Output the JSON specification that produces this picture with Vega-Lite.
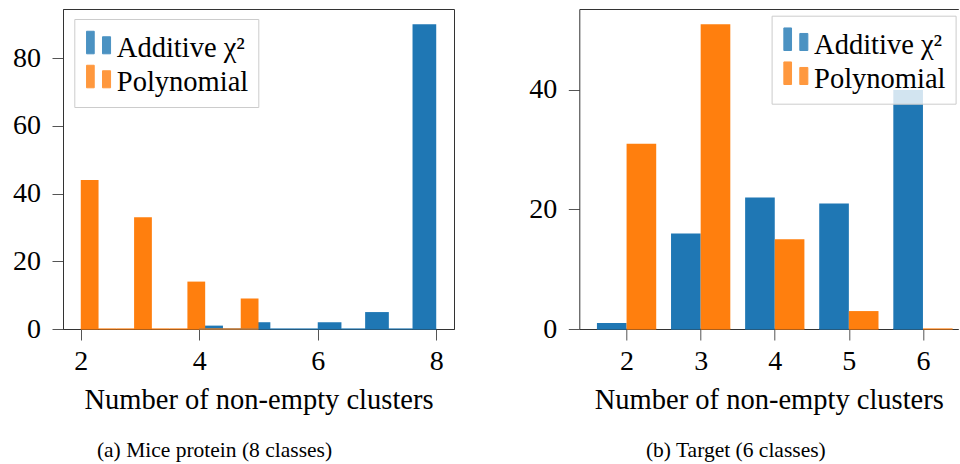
{
  "$schema": "https://vega.github.io/schema/vega-lite/v6.json",
  "background": "white",
  "padding": {"left": 12, "top": 8, "right": 0, "bottom": 0},
  "datasets": {
    "mice": [
      {"method": "Additive χ²", "x0": 4.0, "x1": 4.4, "count": 1},
      {"method": "Additive χ²", "x0": 4.4, "x1": 4.8, "count": 0},
      {"method": "Additive χ²", "x0": 4.8, "x1": 5.2, "count": 2},
      {"method": "Additive χ²", "x0": 5.2, "x1": 5.6, "count": 0},
      {"method": "Additive χ²", "x0": 5.6, "x1": 6.0, "count": 0},
      {"method": "Additive χ²", "x0": 6.0, "x1": 6.4, "count": 2},
      {"method": "Additive χ²", "x0": 6.4, "x1": 6.8, "count": 0},
      {"method": "Additive χ²", "x0": 6.8, "x1": 7.2, "count": 5},
      {"method": "Additive χ²", "x0": 7.2, "x1": 7.6, "count": 0},
      {"method": "Additive χ²", "x0": 7.6, "x1": 8.0, "count": 90},
      {"method": "Polynomial", "x0": 2.0, "x1": 2.3, "count": 44},
      {"method": "Polynomial", "x0": 2.3, "x1": 2.6, "count": 0},
      {"method": "Polynomial", "x0": 2.6, "x1": 2.9, "count": 0},
      {"method": "Polynomial", "x0": 2.9, "x1": 3.2, "count": 33},
      {"method": "Polynomial", "x0": 3.2, "x1": 3.5, "count": 0},
      {"method": "Polynomial", "x0": 3.5, "x1": 3.8, "count": 0},
      {"method": "Polynomial", "x0": 3.8, "x1": 4.1, "count": 14},
      {"method": "Polynomial", "x0": 4.1, "x1": 4.4, "count": 0},
      {"method": "Polynomial", "x0": 4.4, "x1": 4.7, "count": 0},
      {"method": "Polynomial", "x0": 4.7, "x1": 5.0, "count": 9}
    ],
    "target": [
      {"method": "Additive χ²", "x0": 1.6, "x1": 2.0, "count": 1},
      {"method": "Additive χ²", "x0": 2.6, "x1": 3.0, "count": 16},
      {"method": "Additive χ²", "x0": 3.6, "x1": 4.0, "count": 22},
      {"method": "Additive χ²", "x0": 4.6, "x1": 5.0, "count": 21},
      {"method": "Additive χ²", "x0": 5.6, "x1": 6.0, "count": 40},
      {"method": "Polynomial", "x0": 2.0, "x1": 2.4, "count": 31},
      {"method": "Polynomial", "x0": 3.0, "x1": 3.4, "count": 51},
      {"method": "Polynomial", "x0": 4.0, "x1": 4.4, "count": 15},
      {"method": "Polynomial", "x0": 5.0, "x1": 5.4, "count": 3},
      {"method": "Polynomial", "x0": 6.0, "x1": 6.4, "count": 0}
    ]
  },
  "config": {
    "font": "Liberation Serif",
    "view": {"stroke": null},
    "axis": {
      "grid": false,
      "labelFont": "Liberation Serif", "labelFontSize": 28, "labelColor": "black",
      "titleFont": "Liberation Serif", "titleFontSize": 28.5, "titleFontWeight": "normal", "titleColor": "black",
      "tickSize": 11, "tickColor": "#555555", "tickWidth": 1,
      "domainColor": "#333333", "domainWidth": 1
    },
    "axisX": {"labelPadding": 29, "labelBaseline": "alphabetic", "labelAngle": 0, "titleBaseline": "alphabetic", "titleY": 79.7, "format": "d"},
    "axisY": {"labelPadding": 11.5, "format": "d"},
    "title": {"font": "Liberation Serif", "fontSize": 21.5, "fontWeight": "normal", "color": "black", "orient": "bottom", "anchor": "middle", "baseline": "alphabetic", "offset": 26},
    "legend": {
      "orient": "none",
      "labelFont": "Liberation Serif", "labelFontSize": 28.5, "labelColor": "black", "labelLimit": 500,
      "symbolType": "M-1,-1H-0.36V0.88H-1Z M0.33,-0.54H1V0.88H0.33Z",
      "symbolSize": 576, "symbolOpacity": 0.8,
      "labelOffset": 4, "rowPadding": 0, "padding": 10,
      "fillColor": "rgba(255,255,255,0.8)", "strokeColor": "#cccccc", "strokeWidth": 1, "cornerRadius": 0
    }
  },
  "resolve": {"scale": {"color": "independent", "x": "independent", "y": "independent"}, "legend": {"color": "independent"}},
  "bounds": "flush",
  "spacing": 125.3,
  "hconcat": [
    {
      "width": 391,
      "height": 320,
      "view": {"stroke": "#333333", "strokeWidth": 1},
      "title": {"text": "(a) Mice protein (8 classes)", "dx": -44},
      "data": {"name": "mice"},
      "layer": [
        {
          "mark": {"type": "rect"},
          "encoding": {
            "x": {"field": "x0", "type": "quantitative", "scale": {"domain": [1.7, 8.3], "nice": false, "zero": false},
                  "axis": {"values": [2, 4, 6, 8], "title": "Number of non-empty clusters"}},
            "x2": {"field": "x1"},
            "y": {"field": "count", "type": "quantitative", "scale": {"domain": [0, 94.5], "nice": false},
                  "axis": {"values": [0, 20, 40, 60, 80], "title": null}},
            "y2": {"datum": 0},
            "color": {"field": "method", "type": "nominal",
                      "scale": {"domain": ["Additive χ²", "Polynomial"], "range": ["#1f77b4", "#ff7f0e"]},
                      "legend": {"title": null, "legendX": 11.3, "legendY": 10,
                                 "encode": {"symbols": {"update": {"stroke": {"value": "#bbbbbb"}, "strokeWidth": {"value": 1}}},
                                            "labels": {"update": {"dy": {"value": 5}}}}}}
          }
        },
        {
          "mark": {"type": "rule", "strokeWidth": 1.2},
          "encoding": {
            "x": {"field": "x0", "type": "quantitative", "scale": {"domain": [1.7, 8.3], "nice": false, "zero": false}},
            "x2": {"field": "x1"},
            "y": {"datum": 0, "type": "quantitative"},
            "color": {"field": "method", "type": "nominal", "legend": null}
          }
        }
      ]
    },
    {
      "width": 379,
      "height": 320,
      "view": {"stroke": null},
      "title": {"text": "(b) Target (6 classes)", "dx": -33},
      "data": {"name": "target"},
      "resolve": {"axis": {"x": "independent"}},
      "layer": [
        {
          "mark": {"type": "rect"},
          "encoding": {
            "x": {"field": "x0", "type": "quantitative", "scale": {"domain": [1.362, 6.477], "nice": false, "zero": false},
                  "axis": {"values": [2, 3, 4, 5, 6], "title": "Number of non-empty clusters", "orient": "bottom"}},
            "x2": {"field": "x1"},
            "y": {"field": "count", "type": "quantitative", "scale": {"domain": [0, 53.55], "nice": false},
                  "axis": {"values": [0, 20, 40], "title": null}},
            "y2": {"datum": 0},
            "color": {"field": "method", "type": "nominal",
                      "scale": {"domain": ["Additive χ²", "Polynomial"], "range": ["#1f77b4", "#ff7f0e"]},
                      "legend": {"title": null, "legendX": 192.3, "legendY": 6.7,
                                 "encode": {"symbols": {"update": {"stroke": {"value": "#bbbbbb"}, "strokeWidth": {"value": 1}}},
                                            "labels": {"update": {"dy": {"value": 5}}}}}}
          }
        },
        {
          "mark": {"type": "rule", "strokeWidth": 1.2},
          "encoding": {
            "x": {"field": "x0", "type": "quantitative", "scale": {"domain": [1.362, 6.477], "nice": false, "zero": false},
                  "axis": {"orient": "top", "labels": false, "ticks": false, "title": null, "domain": true}},
            "x2": {"field": "x1"},
            "y": {"datum": 0, "type": "quantitative"},
            "color": {"field": "method", "type": "nominal", "legend": null}
          }
        }
      ]
    }
  ]
}
